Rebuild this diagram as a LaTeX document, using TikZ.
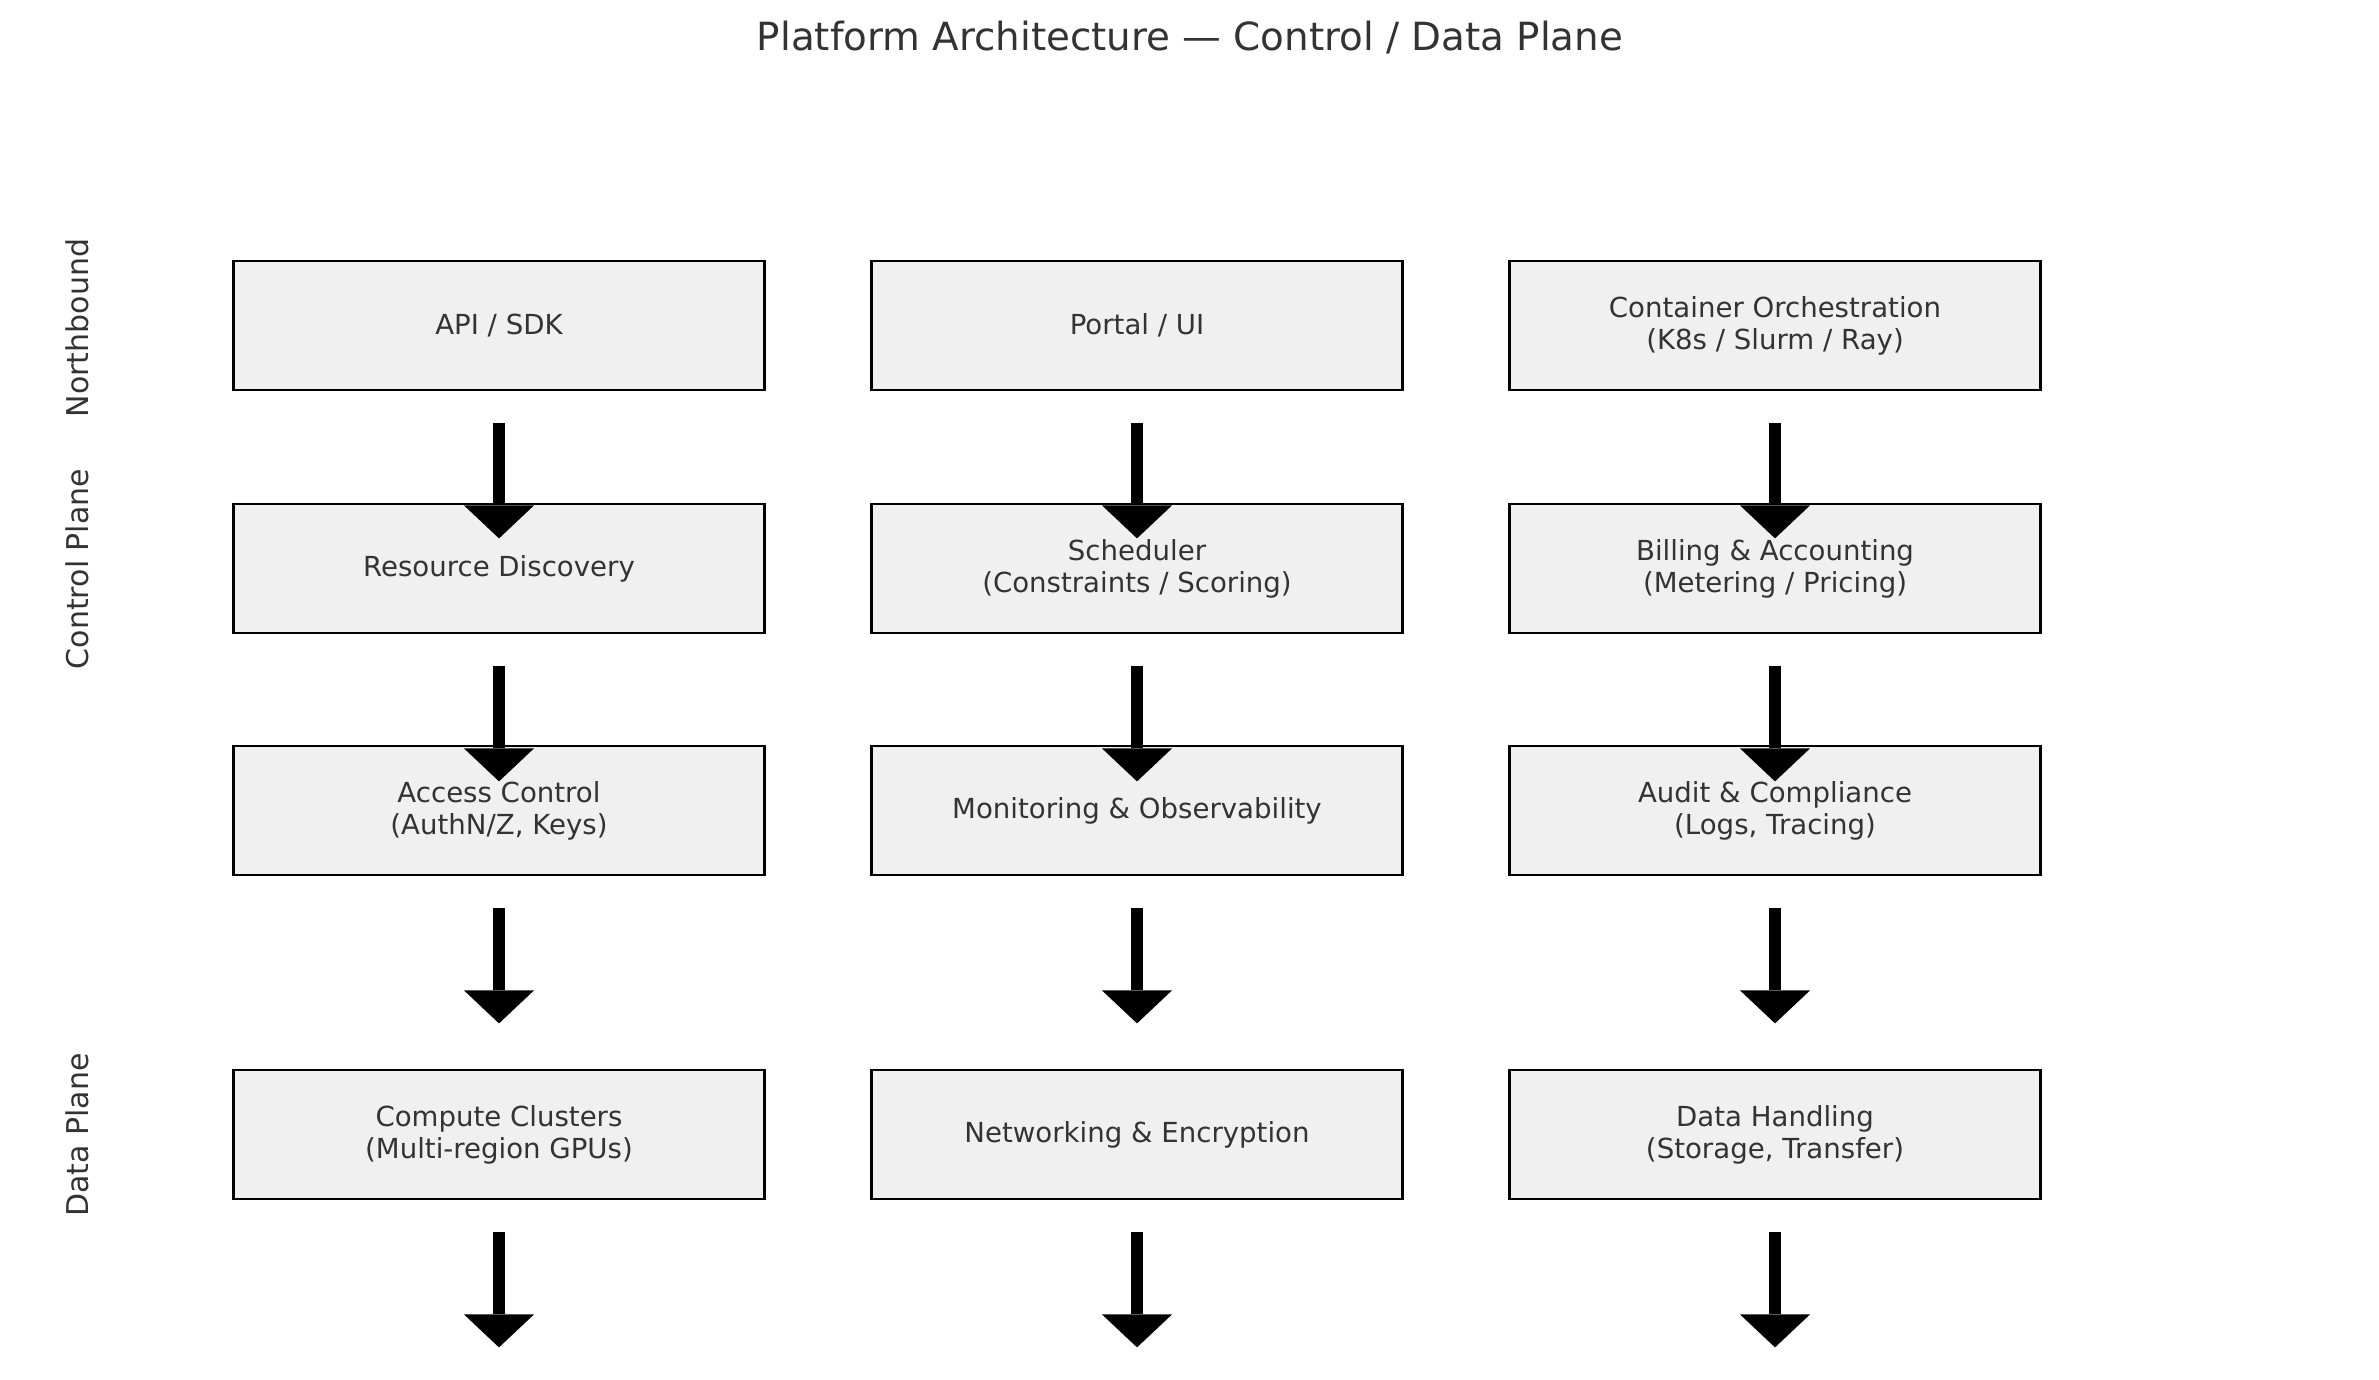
\documentclass[tikz,border=0pt]{standalone}
\usepackage{fontspec}
\setmainfont{DejaVu Sans}
\usetikzlibrary{arrows.meta}
\definecolor{txt}{HTML}{333333}
\definecolor{boxfill}{HTML}{F0F0F0}
\tikzset{
  blk/.style={draw=black, line width=2.8pt, fill=boxfill, minimum width=531pt, minimum height=129pt,
    inner sep=0pt, align=center, text=txt, font=\fontsize{27.6pt}{32pt}\selectfont},
  bigarrow/.style={line width=12pt, draw=black, -{Triangle[width=70pt,length=33pt,line width=0pt]}},
  sidelab/.style={rotate=90, text=txt, font=\fontsize{30pt}{36pt}\selectfont, inner sep=0pt},
}
\begin{document}
\begin{tikzpicture}[x=1pt,y=1pt]
\useasboundingbox (0,0) rectangle (2379,-1380);
\node[text=txt, font=\fontsize{38.8pt}{44pt}\selectfont] (title) at (1190,-38) {Platform Architecture — Control / Data Plane};

\node[sidelab] (ln) at (77,-328) {Northbound};
\node[sidelab] (lc) at (77,-569) {Control Plane};
\node[sidelab] (ld) at (77,-1135) {Data Plane};

% row 1
\node[blk] (a1) at (499,-325.5) {API / SDK};
\node[blk] (b1) at (1137,-325.5) {Portal / UI};
\node[blk] (c1) at (1775,-325.5) {Container Orchestration\\(K8s / Slurm / Ray)};
% row 2
\node[blk] (a2) at (499,-568.5) {Resource Discovery};
\node[blk] (b2) at (1137,-568.5) {Scheduler\\(Constraints / Scoring)};
\node[blk] (c2) at (1775,-568.5) {Billing \& Accounting\\(Metering / Pricing)};
% row 3
\node[blk] (a3) at (499,-810.5) {Access Control\\(AuthN/Z, Keys)};
\node[blk] (b3) at (1137,-810.5) {Monitoring \& Observability};
\node[blk] (c3) at (1775,-810.5) {Audit \& Compliance\\(Logs, Tracing)};
% row 4
\node[blk] (a4) at (499,-1134.5) {Compute Clusters\\(Multi-region GPUs)};
\node[blk] (b4) at (1137,-1134.5) {Networking \& Encryption};
\node[blk] (c4) at (1775,-1134.5) {Data Handling\\(Storage, Transfer)};

\foreach \n in {a1,b1,c1,a2,b2,c2,a3,b3,c3,a4,b4,c4}{
  \draw[bigarrow] ([yshift=-32pt]\n.south) -- ([yshift=-147pt]\n.south);
}
\end{tikzpicture}
\end{document}
